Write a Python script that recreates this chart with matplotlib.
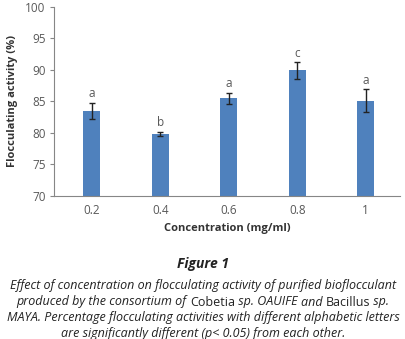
import matplotlib.pyplot as plt

# data
concentrations = ['0.2', '0.4', '0.6', '0.8', '1']
activity = [83.5, 79.8, 85.5, 89.9, 85.1]
errors = [1.3, 0.35, 0.9, 1.3, 1.8]
letters = ['a', 'b', 'a', 'c', 'a']

bar_color = '#4F81BD'
text_gray = '#595959'

plt.rcParams['font.family'] = ['Open Sans', 'DejaVu Sans']

fig = plt.figure(figsize=(4.06, 3.39), dpi=100)
ax = fig.add_axes([54 / 406, 1 - 196 / 339, 346 / 406, 189.3 / 339])

x = range(len(concentrations))
ax.bar(x, activity, width=0.25, color=bar_color, zorder=2)
ax.errorbar(x, activity, yerr=errors, fmt='none', ecolor='#222222',
            elinewidth=1.0, capsize=2.5, capthick=1.0, zorder=3)
for xi, v, e, lab in zip(x, activity, errors, letters):
    ax.text(xi, v + e + 0.4, lab, ha='center', va='bottom',
            fontsize=8.5, color=text_gray)

ax.set_xlim(-0.55, 4.5)
ax.set_ylim(70, 100)
ax.set_yticks(range(70, 101, 5))
ax.set_xticks(list(x))
ax.set_xticklabels(concentrations)
ax.tick_params(axis='y', length=3, width=0.8, color='#868686',
               labelsize=8.5, labelcolor=text_gray, pad=3)
ax.tick_params(axis='x', length=0, labelsize=8.5, labelcolor=text_gray, pad=6)
for side in ['top', 'right']:
    ax.spines[side].set_visible(False)
for side in ['left', 'bottom']:
    ax.spines[side].set_color('#868686')
    ax.spines[side].set_linewidth(0.8)

ax.set_ylabel('Flocculating activity (%)', fontsize=8, fontweight='bold',
              color='#333333', labelpad=5)
ax.set_xlabel('Concentration (mg/ml)', fontsize=8, fontweight='bold',
              color='#333333', labelpad=4)

# caption
cap_size = 9.0
fig.text(0.5, 1 - 264 / 339, 'Figure 1', ha='center', va='center',
         fontsize=10, fontweight='bold', style='italic', color='#222222')

caption_lines = [
    [('Effect of concentration on flocculating activity of purified bioflocculant', 'italic')],
    [('produced by the consortium of ', 'italic'), ('Cobetia', 'normal'),
     (' sp. OAUIFE ', 'italic'), ('and ', 'italic'), ('Bacillus', 'normal'),
     (' sp.', 'italic')],
    [('MAYA. Percentage flocculating activities with different alphabetic letters', 'italic')],
    [('are significantly different (p< 0.05) from each other.', 'italic')],
]
line_y = [285, 302, 318, 333]

renderer = fig.canvas.get_renderer()
for segs, yy in zip(caption_lines, line_y):
    texts = []
    for s, st in segs:
        t = fig.text(0, 1 - yy / 339, s, ha='left', va='center',
                     fontsize=cap_size, style=st, color='#222222')
        texts.append(t)
    widths = [t.get_window_extent(renderer).width for t in texts]
    total = sum(widths)
    start = (406 - total) / 2
    for t, w in zip(texts, widths):
        t.set_x(start / 406)
        start += w

fig.savefig('out.png', dpi=100)
